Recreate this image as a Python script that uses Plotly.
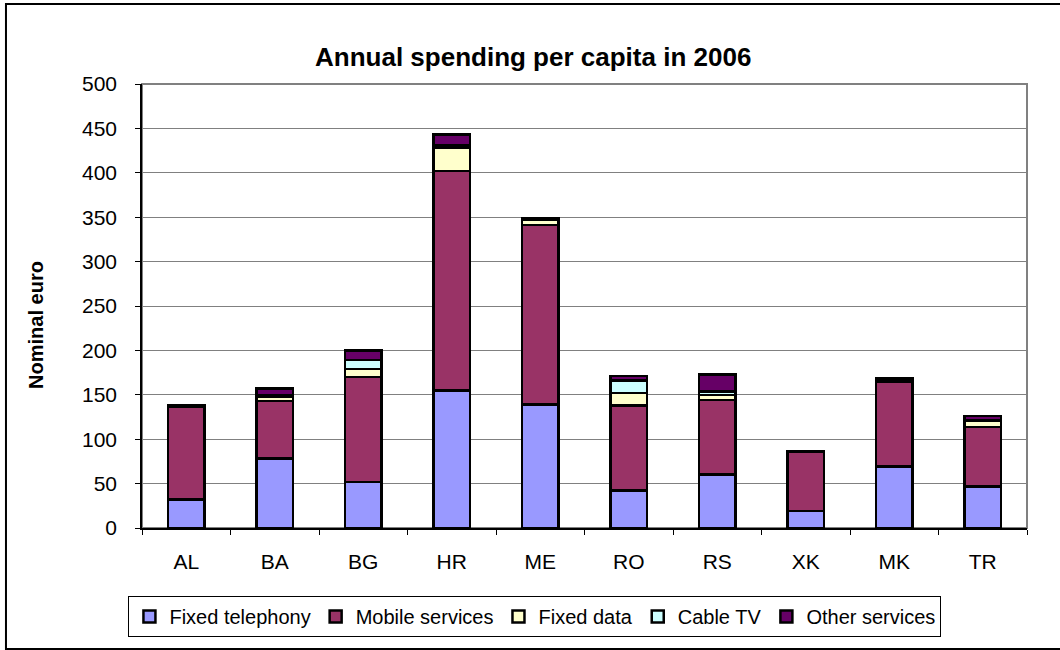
import plotly.graph_objects as go

countries = ["AL", "BA", "BG", "HR", "ME", "RO", "RS", "XK", "MK", "TR"]
fixed_telephony = [32, 78, 52, 155, 139, 42, 60, 19, 69, 47]
mobile_services = [105, 65, 118, 247, 202, 96, 84, 67, 96, 67]
fixed_data = [0, 5, 9, 26, 6, 14, 6, 0, 0, 7]
cable_tv = [0, 1, 10, 3, 0, 14, 4, 0, 0, 0]
other_services = [1, 8, 11, 12, 2, 5, 19, 0, 3.5, 5]

series = [
    ("Fixed telephony", fixed_telephony, "#9999FF"),
    ("Mobile services", mobile_services, "#993366"),
    ("Fixed data", fixed_data, "#FFFFCC"),
    ("Cable TV", cable_tv, "#CCFFFF"),
    ("Other services", other_services, "#660066"),
]

FONT = "Liberation Sans, Arial, sans-serif"

fig = go.Figure()
for name, vals, col in series:
    fig.add_trace(go.Bar(
        x=countries, y=vals, name=name,
        marker=dict(color=col, line=dict(color="black", width=2.5)),
    ))

fig.update_layout(
    barmode="stack",
    bargap=0.59,
    width=1060, height=650,
    margin=dict(l=142, r=33, t=84, b=122),
    paper_bgcolor="white", plot_bgcolor="white",
    font=dict(family=FONT, color="black", size=21),
    title=dict(text="<b>Annual spending per capita in 2006</b>",
               x=0.503, xanchor="center", y=1 - 57 / 650, yanchor="middle",
               yref="container", font=dict(size=26, family=FONT, color="black")),
    showlegend=True,
    legend=dict(orientation="h", x=0.444, xanchor="center", y=-0.153, yanchor="top",
                bordercolor="black", borderwidth=1, font=dict(size=20, family=FONT),
                itemwidth=30, traceorder="normal", bgcolor="white"),
    shapes=[
        dict(type="rect", xref="paper", yref="paper", x0=0, x1=1, y0=0, y1=1,
             line=dict(color="#808080", width=2), layer="below"),
        dict(type="rect", xref="paper", yref="paper", x0=-0.1537, x1=1.1, y0=-0.2725, y1=1.18,
             line=dict(color="black", width=2), layer="below"),
    ],
    annotations=[
        dict(text="<b>Nominal euro</b>", xref="paper", yref="paper", x=-0.12, y=0.457,
             textangle=-90, showarrow=False, xanchor="center", yanchor="middle",
             font=dict(size=20, family=FONT, color="black")),
    ],
)

fig.update_yaxes(range=[0, 500], dtick=50, showgrid=True, gridcolor="#808080", gridwidth=1,
                 showline=True, linecolor="black", linewidth=1.5, ticks="outside",
                 ticklen=5, tickcolor="black", ticklabelstandoff=14, zeroline=False,
                 tickfont=dict(size=21))
fig.update_xaxes(showline=True, linecolor="black", linewidth=1.5, ticks="outside",
                 tickson="boundaries", ticklen=5, tickcolor="black", ticklabelstandoff=14,
                 tickfont=dict(size=21))

fig.write_html("out.html")
